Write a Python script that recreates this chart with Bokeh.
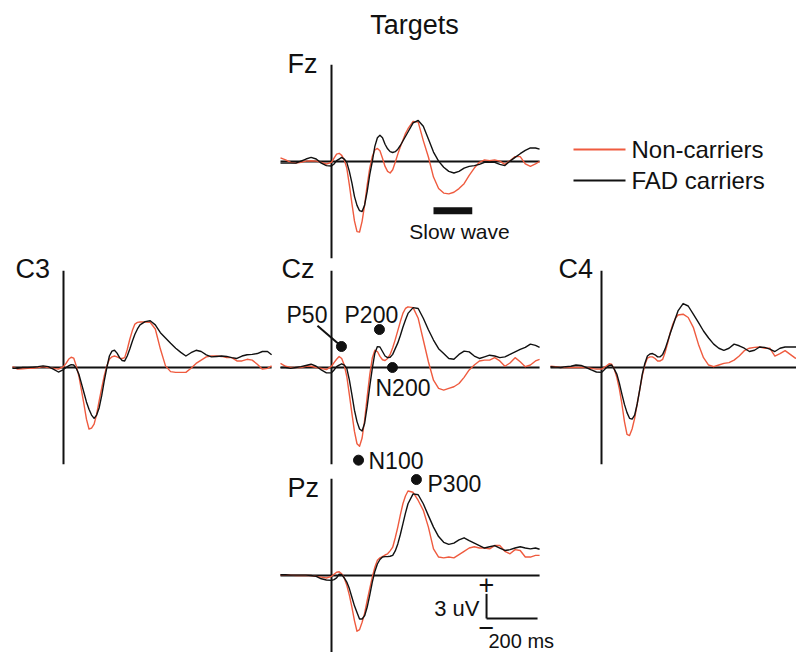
from bokeh.plotting import figure
from bokeh.models import Range1d, Label
from bokeh.embed import file_html
from bokeh.resources import INLINE

# ---------------- data (ms, uV) ----------------
times = [-200, -180, -160, -140, -120, -100, -80, -60, -40, -20, 0,
         10, 20, 30, 40, 50, 60, 70, 80, 90, 100,
         110, 120, 130, 140, 150, 160, 170, 180, 190, 200,
         210, 220, 230, 240, 250, 260, 270, 280, 290, 300,
         320, 340, 360, 380, 400, 420, 440, 460, 480, 500,
         520, 540, 560, 580, 600, 620, 640, 660, 680, 700,
         720, 740, 760, 780, 800, 816]

fz_fad = [-0.2, -0.2, -0.2, -0.2, 0.05, 0.3, 0.5, 0.3, -0.2, -0.5, -0.55,
          -0.3, 0.1, 0.3, 0.5, 0.3, -0.1, -1.2, -2.6, -4.25, -5.35,
          -6.0, -6.1, -5.3, -3.65, -1.6, 0.0, 1.85, 2.9, 3.2, 2.9,
          2.1, 1.55, 1.2, 1.1, 1.2, 1.5, 1.95, 2.5, 3.05, 3.6,
          4.7, 5.0, 4.3, 2.75, 1.15, 0.05, -0.7, -1.2, -1.4, -1.2,
          -0.8, -0.6, -0.5, -0.35, -0.1, -0.1, -0.1, -0.35, -0.5, 0.05,
          0.5, 0.95, 1.35, 1.65, 1.65, 1.5]
fz_non = [0.45, 0.2, -0.1, -0.2, -0.1, 0.05, 0.1, 0.05, -0.1, -0.3, -0.1,
          0.4, 0.9, 1.0, 0.75, 0.2, -0.8, -2.85, -5.1, -7.25, -8.55,
          -8.6, -7.3, -5.3, -2.85, -0.8, 0.6, 1.4, 1.6, 1.3, 0.4,
          -0.6, -1.2, -1.4, -1.0, -0.1, 0.9, 1.8, 2.6, 3.4, 4.0,
          4.9, 4.8, 2.55, 0.55, -1.9, -3.3, -3.85, -3.95, -3.75, -3.3,
          -2.7, -1.7, -0.8, -0.1, 0.2, 0.1, 0.2, 0.05, -0.35, 0.1,
          0.6, 0.6, -0.3, -0.6, -0.3, 0.0]

cz_fad = [0, 0, -0.1, 0, 0.1, 0.25, 0.4, 0.15, -0.3, -0.65, -0.65,
          -0.3, 0.1, 0.3, 0.45, 0.3, -0.1, -1.5, -3.3, -5.2, -6.6,
          -7.5, -7.75, -6.8, -4.75, -2.3, -0.1, 1.75, 2.55, 2.5, 1.95,
          1.4, 1.2, 1.25, 1.6, 2.3, 3.0, 3.9, 4.9, 5.8, 6.6,
          7.3, 7.2, 6.0, 4.6, 3.35, 2.3, 1.7, 1.1, 1.0, 1.6,
          2.0, 1.9, 1.4, 1.1, 1.3, 1.5, 1.4, 1.2, 1.3, 1.6,
          1.9, 2.2, 2.45, 2.85, 2.7, 2.45]
cz_non = [0.5, 0.15, 0, 0, 0, 0.15, 0.15, 0, -0.1, -0.25, 0.15,
          0.6, 1.0, 1.35, 1.1, 0.3, -1.1, -3.3, -5.6, -7.8, -9.3,
          -9.6, -8.6, -6.4, -3.55, -0.9, 1.15, 2.1, 1.95, 1.35, 0.95,
          0.85, 1.1, 1.6, 2.4, 3.4, 4.5, 5.6, 6.6, 7.2, 7.4,
          7.3, 6.0, 3.35, 0.7, -1.55, -2.55, -2.75, -2.55, -2.35, -1.95,
          -1.2, -0.3, 0.3, 0.8, 0.9, 0.9, 1.2, 0.8, 0.15, 0.55,
          1.2, 0.7, 0.1, 0.3, 0.8, 1.0]

pz_fad = [0.1, 0.1, 0.05, 0.05, 0.05, 0.05, 0, -0.1, -0.4, -0.55, -0.6,
          -0.5, -0.3, 0.15, 0.1, -0.3, -0.8, -1.6, -2.65, -3.7, -4.5,
          -5.3, -5.3, -4.9, -3.85, -2.4, -0.8, 0.5, 1.4, 1.95, 2.25,
          2.3, 2.3, 2.35, 2.45, 3.0, 3.85, 5.0, 6.3, 7.6, 8.75,
          9.95, 9.85, 8.75, 7.3, 5.9, 4.75, 4.05, 3.8, 3.95, 4.35,
          4.6, 4.25, 3.95, 3.65, 3.35, 3.5, 3.65, 3.35, 3.05, 3.15,
          3.35, 3.5, 3.35, 3.25, 3.35, 3.2]
pz_non = [0.1, 0.1, 0.05, 0, 0, 0, 0, -0.1, -0.2, -0.3, -0.1,
          0.15, 0.4, 0.45, 0.2, -0.3, -1.2, -2.4, -3.85, -5.5, -6.8,
          -6.6, -5.7, -4.6, -3.05, -1.6, -0.2, 1.0, 1.85, 2.15, 2.3,
          2.5, 2.65, 3.0, 3.45, 4.6, 5.9, 7.4, 8.75, 9.7, 10.3,
          10.15, 9.15, 7.95, 5.9, 3.25, 2.25, 2.15, 2.25, 2.15, 2.55,
          2.95, 3.35, 3.5, 3.35, 3.35, 3.25, 3.65, 3.65, 2.95, 2.65,
          3.15, 3.05, 2.25, 2.25, 2.45, 2.45]

c3_fad = [-0.1, -0.1, 0, 0, 0.05, 0.1, 0.2, 0.1, -0.2, -0.55, -0.25,
          0.0, 0.2, 0.35, 0.3, -0.1, -0.8, -1.9, -3.05, -4.2, -5.1,
          -5.8, -6.2, -5.8, -4.9, -3.4, -1.6, 0.0, 1.4, 2.0, 2.1,
          1.75, 1.2, 0.85, 0.8, 1.4, 2.25, 3.2, 4.05, 4.7, 5.2,
          5.6, 5.7, 5.2, 4.25, 3.6, 2.95, 2.35, 1.85, 1.4, 1.8,
          2.1, 1.95, 1.55, 1.3, 1.35, 1.4, 1.35, 1.2, 1.1, 1.4,
          1.55, 1.6, 1.7, 1.95, 1.95, 1.55]
c3_non = [0.1, -0.2, -0.15, -0.1, -0.1, 0, 0.1, 0, -0.1, -0.2, 0.1,
          0.5, 1.0, 1.25, 1.15, 0.2, -1.0, -2.7, -4.45, -6.3, -7.5,
          -7.4, -6.9, -5.7, -4.05, -2.5, -1.0, 0.2, 1.0, 1.3, 1.4,
          1.3, 1.15, 1.1, 1.2, 2.2, 3.45, 4.5, 5.3, 5.5, 5.55,
          5.55, 5.5, 4.7, 2.25, 0.2, -0.5, -0.6, -0.6, -0.6, -0.1,
          0.5, 0.9, 1.3, 1.4, 1.4, 1.35, 1.2, 1.2, 0.8, 0.8,
          1.0, 0.9, 0.4, -0.2, -0.1, 0.2]

c4_fad = [0.1, 0.05, 0, 0.1, 0.15, 0.3, 0.25, 0, -0.3, -0.55, -0.6,
          -0.3, 0.0, 0.25, 0.3, -0.2, -0.8, -1.9, -3.25, -4.5, -5.5,
          -6.2, -6.3, -5.8, -4.45, -2.7, -0.8, 0.5, 1.4, 1.65, 1.7,
          1.55, 1.3, 1.3, 1.6, 2.3, 3.25, 4.2, 5.1, 6.0, 6.9,
          7.8, 7.5, 6.5, 5.5, 4.45, 3.6, 2.85, 2.35, 2.1, 2.35,
          2.85, 2.65, 2.35, 1.95, 2.1, 2.5, 2.45, 2.25, 1.95, 2.35,
          2.5, 2.5, 2.5, 2.5, 2.5, 2.5]
c4_non = [0.15, 0.1, 0, 0, 0, 0, 0, 0, -0.1, -0.2, -0.2,
          0.0, 0.2, 0.45, 0.4, -0.2, -1.2, -2.6, -4.45, -6.6, -8.15,
          -8.3, -7.5, -6.2, -4.45, -2.7, -1.0, 0.3, 1.15, 1.3, 1.3,
          1.1, 0.8, 0.8, 1.0, 1.9, 3.05, 4.3, 5.3, 6.0, 6.4,
          6.5, 6.1, 4.9, 2.85, 1.2, 0.3, 0.1, 0.3, 0.5, 0.6,
          0.9, 1.4, 2.05, 2.35, 2.45, 2.5, 2.35, 2.35, 1.4, 1.7,
          2.05, 1.6, 1.15, 0.9, 1.0, 1.0]

# ERP components marked on Cz (latency ms, amplitude uV), P300 on Pz
cz_comp_names = ["P50", "P200", "N200", "N100"]
cz_comp_lat = [39, 188, 239, 106]
cz_comp_amp = [2.56, 4.63, 0.0, -11.3]
pz_comp_names = ["P300"]
pz_comp_lat = [333]
pz_comp_amp = [11.7]

slow_wave_window = [400, 552]   # ms
scale_uv = 3
scale_ms = 200

series_names = ["Non-carriers", "FAD carriers"]

# ---------------- layout / style ----------------
W, H = 796, 652
PXMS, PXUV = 0.255, 8.2
RED = "#ef5b3f"
BLACK = "#111111"
FONT = "Liberation Sans"

panels = {  # zero-time x and baseline y, in picture pixels
    "Fz": (331, 161),
    "C3": (63, 367),
    "Cz": (331, 367),
    "C4": (601, 367),
    "Pz": (331, 575),
}
panel_data = {
    "Fz": (fz_non, fz_fad),
    "C3": (c3_non, c3_fad),
    "Cz": (cz_non, cz_fad),
    "C4": (c4_non, c4_fad),
    "Pz": (pz_non, pz_fad),
}


def sx(X):
    return X


def sy(Y):
    return H - Y


p = figure(width=W, height=H, x_range=Range1d(0, W), y_range=Range1d(0, H),
           output_backend="svg", toolbar_location=None, min_border=0,
           x_axis_location=None, y_axis_location=None)
p.outline_line_color = None
p.grid.grid_line_color = None
p.background_fill_color = "white"
p.border_fill_color = "white"

xr, yr = {}, {}
for name, (X0, Y0) in panels.items():
    xr[name] = Range1d(-X0 / PXMS, (W - X0) / PXMS)
    yr[name] = Range1d(-(H - Y0) / PXUV, Y0 / PXUV)
p.extra_x_ranges = xr
p.extra_y_ranges = yr

AX_T0, AX_T1, AX_V = -200, 816, 11.8
for name in panels:
    p.segment(x0=[AX_T0, 0], y0=[0, -AX_V], x1=[AX_T1, 0], y1=[0, AX_V],
              line_color=BLACK, line_width=2,
              x_range_name=name, y_range_name=name)
    non, fad = panel_data[name]
    p.line(times, non, line_color=RED, line_width=1.4, line_join="round",
           x_range_name=name, y_range_name=name)
    p.line(times, fad, line_color=BLACK, line_width=1.4, line_join="round",
           x_range_name=name, y_range_name=name)

# component markers
p.scatter(cz_comp_lat, cz_comp_amp, size=10, color=BLACK,
          x_range_name="Cz", y_range_name="Cz")
p.scatter(pz_comp_lat, pz_comp_amp, size=10, color=BLACK,
          x_range_name="Pz", y_range_name="Pz")
# P50 leader line
p.segment(x0=[-55], y0=[5.1], x1=[27], y1=[2.9], line_color=BLACK, line_width=2,
          x_range_name="Cz", y_range_name="Cz")

# slow wave bar on Fz
p.segment(x0=[slow_wave_window[0]], y0=[-6.0], x1=[slow_wave_window[1]], y1=[-6.0],
          line_color=BLACK, line_width=7, line_cap="butt",
          x_range_name="Fz", y_range_name="Fz")

# scale bar on Pz
SB_T, SB_V = 608, -5.24
p.segment(x0=[SB_T, SB_T], y0=[SB_V, SB_V], x1=[SB_T, SB_T + scale_ms], y1=[SB_V + scale_uv, SB_V],
          line_color=BLACK, line_width=2, x_range_name="Pz", y_range_name="Pz")


def label(text, X, Y, size, align="left", color=BLACK):
    p.add_layout(Label(x=sx(X), y=sy(Y), x_units="data", y_units="data", text=text,
                       text_font=FONT, text_font_size=f"{size}px", text_color=color,
                       text_align=align, text_baseline="middle"))


label("Targets", 414, 24, 27, "center")
label("Fz", 287, 63, 27)
label("C3", 15, 268, 27)
label("Cz", 281, 268, 27)
label("C4", 558, 268, 27)
label("Pz", 287, 487, 27)

# component labels
label("P50", 286, 314, 23)
label("P200", 344, 314, 23)
label("N200", 375, 387, 23)
label("N100", 368, 460, 23)
label("P300", 427, 483, 23)

label("Slow wave", 459, 231, 21, "center")
label("+", 486, 584, 27, "center")
label("\u2212", 486, 627, 27, "center")
label(f"{scale_uv} uV", 479, 608, 22, "right")
label(f"{scale_ms} ms", 488, 640, 20)

# legend
leg_y = [149, 180]
leg_col = [RED, BLACK]
for nm, yy, cc in zip(series_names, leg_y, leg_col):
    p.segment(x0=[sx(573)], y0=[sy(yy)], x1=[sx(625)], y1=[sy(yy)], line_color=cc, line_width=2)
    label(nm, 631, yy, 24)

open("out.html", "w").write(file_html(p, INLINE, "Targets"))
